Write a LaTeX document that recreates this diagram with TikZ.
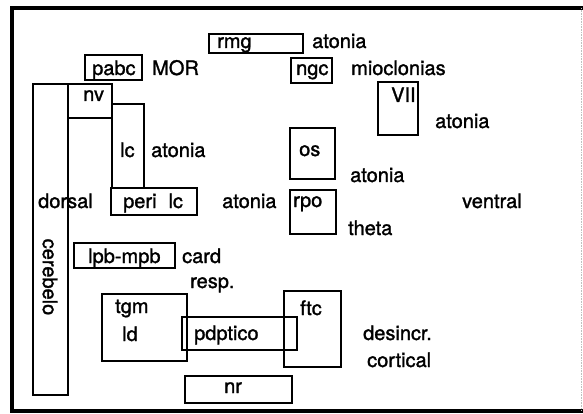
\documentclass[tikz,border=0pt]{standalone}
\usepackage{fontspec}
\setmainfont{TeX Gyre Heros}[FakeBold=1.2,AutoFakeBold=1.2]
\newfontfamily\heavyfont{TeX Gyre Heros}[FakeBold=1.4]
\begin{document}
\begin{tikzpicture}[x=1pt,y=-1pt,
  box/.style={draw=black,line width=2pt,inner sep=0pt,minimum width=#1},
  lbl/.style={anchor=base west,inner sep=0pt,font=\heavyfont\fontsize{20}{24}\selectfont},
  frameline/.style={line width=3.2pt,line cap=rect}]
\useasboundingbox (0,0) rectangle (583,414);
\fill[white] (0,0) rectangle (583,414);
% frame
\coordinate (ftl) at (12,8);
\coordinate (ftr) at (581,8);
\coordinate (fbl) at (12,411);
\coordinate (fbr) at (581,411);
\draw[frameline] (ftr) -- (ftl) -- (fbl) -- (fbr);
\draw[gray!50,line width=0.6pt,densely dotted] (ftr) -- (fbr);
% boxes
\node[box=94pt,minimum height=19pt] (rmg) at (256,43.5) {};
\node[box=41pt,minimum height=25pt] (ngc) at (311.5,70.5) {};
\node[box=57pt,minimum height=25pt] (pabc) at (113.5,67.5) {};
\node[box=35pt,minimum height=311pt] (cereb) at (50.5,239.5) {};
\node[box=44pt,minimum height=34pt] (nv) at (90,101) {};
\node[box=32pt,minimum height=84pt] (lc) at (128,146) {};
\node[box=86pt,minimum height=27pt] (peri) at (154,201.5) {};
\node[box=40pt,minimum height=53pt] (VII) at (398,108.5) {};
\node[box=45pt,minimum height=51pt] (os) at (312.5,153.5) {};
\node[box=46pt,minimum height=44pt] (rpo) at (313,212) {};
\node[box=101pt,minimum height=25pt] (lpb) at (124.5,255.5) {};
\node[box=85pt,minimum height=67pt] (tgm) at (144.5,327.5) {};
\node[box=115pt,minimum height=33pt] (pdp) at (239.5,333.5) {};
\node[box=57pt,minimum height=76pt] (ftc) at (312.5,329) {};
\node[box=107pt,minimum height=27pt] (nr) at (238.5,389.5) {};
\draw[line width=2pt] (nv.south east) ++(-1,0) coordinate (colt) -- (colt |- peri.north) coordinate (colb);
% labels
\node[lbl] (t-rmg) at (217,48) {rmg};
\node[lbl] (t-at1) at (312,48) {atonia};
\node[lbl] (t-ngc) at (296,75) {ngc};
\node[lbl] (t-mio) at (351,75) {mioclonias};
\node[lbl] (t-pabc) at (92,75) {pabc};
\node[lbl] (t-mor) at (152,75) {MOR};
\node[lbl] (t-nv) at (83,101) {nv};
\node[lbl] (t-lc) at (120,157) {lc};
\node[lbl] (t-at2) at (151,157) {atonia};
\node[lbl] (t-VII) at (391,102) {VII};
\node[lbl] (t-at3) at (435,128) {atonia};
\node[lbl] (t-os) at (299,156) {os};
\node[lbl] (t-at4) at (350,182) {atonia};
\node[lbl] (t-dorsal) at (38,208) {dorsal};
\node[lbl] (t-peri) at (123,208) {peri\hspace{0.6em}lc};
\node[lbl] (t-at5) at (222,208) {atonia};
\node[lbl] (t-rpo) at (293,207) {rpo};
\node[lbl] (t-ventral) at (462,208) {ventral};
\node[lbl] (t-theta) at (348,235) {theta};
\node[lbl] (t-lpb) at (88,263) {lpb-mpb};
\node[lbl] (t-card) at (182,263) {card};
\node[lbl] (t-resp) at (190,288) {resp.};
\node[lbl] (t-tgm) at (115,313) {tgm};
\node[lbl] (t-ld) at (122,341) {ld};
\node[lbl] (t-pdp) at (194,340) {pdptico};
\node[lbl] (t-ftc) at (300,315) {ftc};
\node[lbl] (t-des) at (363,340) {desincr.};
\node[lbl] (t-cor) at (367,367) {cortical};
\node[lbl] (t-nr) at (224,393) {nr};
\node[font=\heavyfont\fontsize{20}{24}\selectfont,rotate=-90,inner sep=0pt] (t-cereb) at (50,277) {cerebelo};
\end{tikzpicture}
\end{document}
